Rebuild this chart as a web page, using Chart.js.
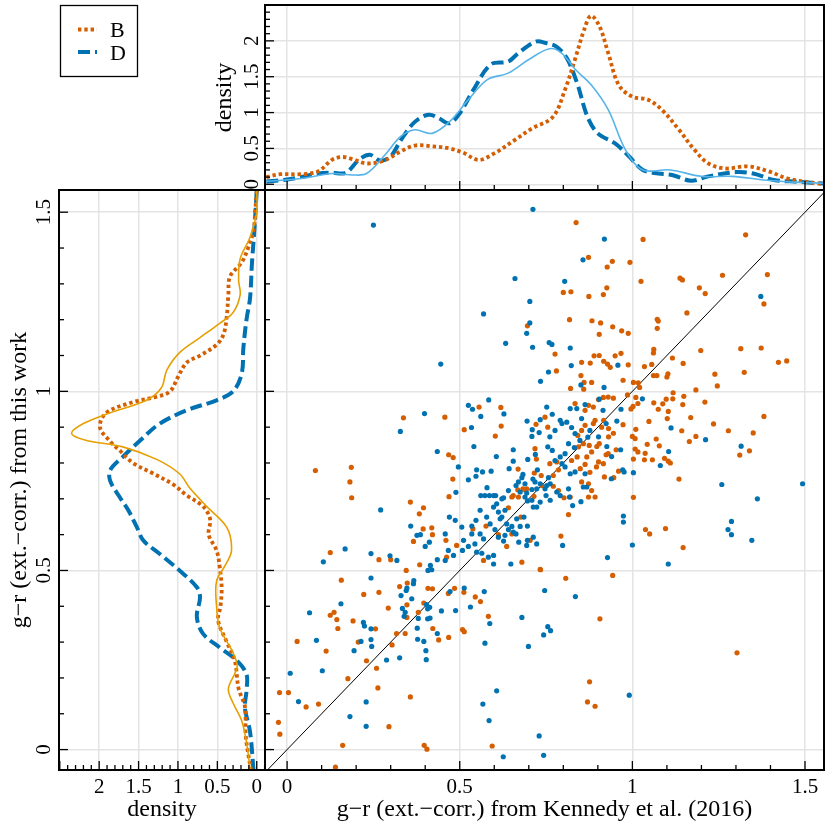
<!DOCTYPE html>
<html>
<head>
<meta charset="utf-8">
<script src="https://cdn.jsdelivr.net/npm/chart.js@4.4.0/dist/chart.umd.min.js"></script>
<style>
  html, body { margin: 0; padding: 0; background: #fff; }
  #wrap { position: relative; width: 830px; height: 830px; }
  #wrap canvas { position: absolute; left: 0; top: 0; }
</style>
</head>
<body>
<div id="wrap">
  <canvas id="topChart" width="830" height="830"></canvas>
  <canvas id="leftChart" width="830" height="830"></canvas>
  <canvas id="mainChart" width="830" height="830"></canvas>
</div>
<script>
// colour index, g-r from Kennedy et al. (x) vs this work (y)
const xRange = [-0.064, 1.555];
const yRange = [-0.057, 1.562];
const grTicks = [0, 0.5, 1, 1.5];
const densTicks = [0, 0.5, 1, 1.5, 2];
const diagLine = [-0.2, 1.7];

// scatter, sample B (orange) as [x, y]
const scatterB = [
  [0.696,1.183],[0.556,0.956],[0.619,0.955],[0.337,0.926],[0.457,0.928],[0.513,0.893],[0.620,0.903],[0.603,0.875],[0.721,0.908],[0.718,0.840],
  [0.722,0.811],[0.468,0.823],[0.481,0.815],[0.082,0.779],[0.186,0.788],[0.669,0.783],[0.716,0.772],[0.480,0.755],[0.736,0.765],
  [0.837,1.471],[1.031,1.424],[1.328,1.437],[0.873,1.374],[0.942,1.363],[0.927,1.347],[0.993,1.360],[1.025,1.307],[1.138,1.316],[1.145,1.311],
  [1.261,1.324],[1.391,1.326],[0.800,1.276],[0.822,1.278],[0.874,1.265],[0.916,1.270],[0.926,1.289],[1.194,1.289],[1.211,1.273],[1.381,1.244],
  [1.158,1.219],[0.818,1.200],[0.883,1.197],[0.908,1.191],[1.072,1.201],[1.075,1.196],[1.072,1.176],[0.904,1.159],[0.943,1.180],[0.969,1.169],
  [0.988,1.162],[0.776,1.104],[0.889,1.099],[0.904,1.100],[0.950,1.099],[0.967,1.106],[1.062,1.117],[1.061,1.107],[1.116,1.093],[1.198,1.114],
  [1.314,1.119],[1.373,1.121],[1.423,1.081],[1.447,1.085],[0.780,1.057],[0.853,1.081],[0.878,1.079],[0.917,1.084],[0.928,1.076],[0.936,1.067],
  [0.988,1.074],[1.035,1.069],[1.056,1.075],[1.147,1.078],[1.061,1.044],[1.071,1.044],[1.100,1.040],[1.103,1.049],[1.239,1.048],[1.324,1.053],
  [1.246,1.015],[1.184,1.004],[0.851,1.044],[0.860,1.025],[0.882,1.025],[0.973,1.031],[1.003,1.025],[1.017,1.024],[0.821,1.008],[0.859,1.006],
  [1.021,1.011],[0.986,0.990],[1.118,0.996],[1.098,0.978],[1.117,0.979],[1.149,0.986],[1.146,0.963],[1.210,0.970],[1.062,0.968],[1.088,0.965],
  [1.010,0.983],[1.016,0.966],[1.002,0.958],[0.902,0.977],[0.916,0.983],[0.930,0.984],[0.945,0.981],[0.873,0.961],[0.887,0.956],[0.863,0.947],
  [0.834,0.966],[0.996,0.951],[1.075,0.950],[1.104,0.944],[1.101,0.924],[1.169,0.927],[1.381,0.930],[1.048,0.916],[0.973,0.907],[1.010,0.894],
  [1.143,0.890],[1.235,0.909],[1.278,0.890],[1.350,0.884],[1.165,0.860],[1.184,0.874],[1.000,0.874],[1.008,0.868],[1.069,0.867],[1.043,0.852],
  [1.078,0.848],[0.953,0.837],[1.008,0.839],[1.016,0.831],[1.037,0.827],[1.339,0.834],[1.311,0.822],[1.093,0.813],[1.104,0.805],[1.110,0.800],
  [1.035,0.809],[1.058,0.809],[1.003,0.811],[0.924,0.823],[0.930,0.826],[1.135,0.755],[0.960,0.777],[0.919,0.761],[0.946,0.759],[0.902,0.803],
  [0.916,0.798],[0.896,0.789],[0.877,0.774],[0.863,0.796],[0.882,0.831],[0.868,0.817],[0.897,0.846],[0.904,0.854],[0.875,0.849],[0.931,0.896],
  [0.931,0.873],[0.945,0.883],[0.911,0.900],[0.917,0.919],[0.892,0.919],[0.887,0.910],[0.853,0.891],[0.863,0.905],[0.842,0.877],[0.844,0.845],
  [0.858,0.854],[0.840,0.817],[0.824,0.807],[0.781,0.803],[0.761,0.798],[0.786,0.781],[0.771,0.765],[0.747,0.928],[0.755,0.900],[0.849,0.784],
  [0.469,0.706],[0.651,0.705],[0.668,0.725],[0.683,0.728],[0.694,0.728],[0.715,0.707],[0.738,0.737],[0.771,0.735],[0.786,0.723],[0.802,0.703],
  [0.820,0.705],[0.853,0.747],[0.873,0.742],[0.882,0.723],[0.873,0.705],[0.892,0.705],[0.815,0.656],[1.003,0.704],[1.038,0.614],[1.050,0.602],
  [1.096,0.617],[1.147,0.564],[0.793,0.596],[0.641,0.675],[0.655,0.709],[0.677,0.649],[0.651,0.602],[0.636,0.567],[0.612,0.600],[0.576,0.624],
  [0.538,0.616],[0.491,0.570],[0.460,0.584],[0.462,0.537],[0.569,0.528],[0.680,0.523],[0.704,0.584],[0.733,0.503],[0.689,0.725],[0.670,0.705],
  [0.182,0.747],[0.187,0.703],[0.357,0.691],[0.383,0.658],[0.395,0.675],[0.366,0.581],[0.394,0.616],[0.419,0.619],[0.421,0.600],[0.384,0.516],
  [0.345,0.500],[0.300,0.530],[0.266,0.530],[0.125,0.550],[0.157,0.473],[0.222,0.433],[0.266,0.439],[0.125,0.375],[0.136,0.383],[0.144,0.363],
  [0.147,0.338],[0.191,0.359],[0.293,0.395],[0.256,0.337],[0.206,0.300],[0.029,0.302],[0.113,0.275],[0.230,0.248],[0.259,0.227],[0.304,0.292],
  [0.317,0.324],[0.342,0.324],[0.347,0.404],[0.347,0.369],[0.380,0.383],[0.348,0.465],[0.326,0.455],[0.396,0.409],[0.422,0.338],[0.408,0.450],
  [0.421,0.449],[0.439,0.306],[0.468,0.313],[0.467,0.436],[0.485,0.450],[0.508,0.335],[0.513,0.329],[0.512,0.439],[0.545,0.426],[0.560,0.413],
  [0.583,0.372],[0.594,0.010],[0.734,0.502],[0.357,0.147],[0.295,0.064],[0.397,0.012],[0.405,0.001],[0.161,0.012],[0.140,-0.049],[0.176,0.198],
  [0.263,0.172],[-0.022,0.159],[0.004,0.159],[0.055,0.119],[0.091,0.127],[-0.025,0.076],[-0.021,0.043],
  [1.303,0.270],[0.807,0.478],[0.943,0.486],[0.906,0.365],[0.876,0.189],[0.870,0.133],[0.892,0.121]
];

// scatter, sample D (blue) as [x, y]
const scatterD = [
  [0.250,1.464],[0.712,1.508],[0.660,1.315],[0.703,1.251],[0.569,1.216],[0.703,1.191],[0.694,1.162],[0.633,1.134],[0.711,1.123],[0.445,1.076],
  [0.734,1.028],[0.584,0.976],[0.525,0.961],[0.537,0.950],[0.398,0.938],[0.561,0.930],[0.628,0.937],[0.328,0.888],[0.534,0.899],[0.695,0.917],
  [0.733,0.921],[0.710,0.893],[0.709,0.874],[0.730,0.885],[0.719,0.824],[0.655,0.837],[0.541,0.846],[0.435,0.832],[0.606,0.818],[0.655,0.805],
  [0.697,0.810],[0.496,0.789],[0.549,0.781],[0.566,0.775],[0.591,0.777],[0.643,0.784],[0.725,0.781],[0.547,0.763],[0.525,0.753],[0.683,0.768],
  [0.680,0.759],[0.712,0.755],
  [0.919,1.425],[0.857,1.367],[0.804,1.307],[1.372,1.265],[0.759,1.136],[0.767,1.131],[0.820,1.121],[0.757,1.054],[0.823,1.072],[0.958,1.073],
  [0.851,1.018],[0.918,1.011],[1.029,0.979],[0.904,0.978],[0.863,0.963],[0.967,0.950],[0.915,0.947],[0.955,0.917],[1.112,0.898],[1.212,0.865],
  [0.966,0.837],[1.105,0.832],[1.315,0.847],[1.081,0.793],[0.940,0.818],[1.003,0.773],[0.972,0.781],[0.976,0.775],[0.939,0.756],[0.926,0.846],
  [0.902,0.873],[0.924,0.910],[0.877,0.891],[0.871,0.872],[0.824,0.899],[0.834,0.882],[0.848,0.863],[0.832,0.843],[0.815,0.854],[0.805,0.826],
  [0.791,0.817],[0.796,0.798],[0.768,0.835],[0.755,0.845],[0.776,0.807],[0.805,0.789],[0.820,0.770],[0.834,0.775],[0.863,0.770],[0.796,0.910],
  [0.776,0.891],[0.761,0.873],[0.752,0.956],[0.768,0.936],[0.791,0.919],[0.810,0.914],[0.820,0.952],[0.853,0.924],[0.839,0.952],[0.757,0.759],
  [0.489,0.718],[0.561,0.709],[0.573,0.709],[0.586,0.709],[0.598,0.709],[0.604,0.709],[0.579,0.731],[0.627,0.703],[0.663,0.737],[0.675,0.719],
  [0.709,0.726],[0.723,0.728],[0.733,0.742],[0.752,0.737],[0.762,0.742],[0.791,0.709],[0.815,0.728],[0.818,0.705],[0.858,0.733],[0.868,0.733],
  [0.851,0.692],[0.827,0.681],[0.974,0.652],[0.974,0.635],[1.000,0.571],[0.798,0.570],[0.928,0.536],[1.104,0.518],
  [0.622,0.700],[0.598,0.677],[0.607,0.686],[0.612,0.663],[0.622,0.649],[0.631,0.668],[0.617,0.644],[0.636,0.630],[0.641,0.614],[0.651,0.623],
  [0.655,0.607],[0.663,0.602],[0.671,0.579],[0.631,0.598],[0.627,0.582],[0.612,0.593],[0.602,0.614],[0.588,0.630],[0.578,0.649],[0.559,0.668],
  [0.547,0.640],[0.535,0.624],[0.535,0.602],[0.559,0.602],[0.569,0.588],[0.544,0.574],[0.511,0.584],[0.506,0.621],[0.487,0.640],[0.470,0.649],
  [0.458,0.602],[0.467,0.556],[0.458,0.528],[0.482,0.542],[0.508,0.556],[0.525,0.567],[0.549,0.551],[0.564,0.548],[0.583,0.537],[0.598,0.542],
  [0.598,0.518],[0.648,0.518],[0.696,0.584],[0.686,0.649],[0.696,0.624],[0.675,0.623],[0.665,0.644],[0.689,0.705],[0.696,0.694],[0.709,0.696],
  [0.713,0.677],[0.723,0.677],[0.713,0.593],[0.723,0.574],[0.694,0.570],[0.750,0.709],[0.762,0.696],[0.733,0.691],[0.781,0.719],[0.747,0.728],
  [0.718,0.747],[0.689,0.742],[0.670,0.747],[0.641,0.723],[0.694,0.716],
  [0.271,0.669],[0.376,0.598],[0.358,0.624],[0.412,0.579],[0.400,0.567],[0.386,0.600],[0.408,0.500],[0.415,0.514],[0.419,0.502],[0.435,0.530],
  [0.298,0.541],[0.318,0.528],[0.243,0.547],[0.168,0.560],[0.105,0.524],[0.243,0.479],[0.156,0.407],[0.065,0.382],[0.221,0.355],[0.224,0.345],
  [0.243,0.337],[0.243,0.307],[0.245,0.288],[0.214,0.302],[0.085,0.305],[0.194,0.276],[0.288,0.250],[0.326,0.256],[0.339,0.372],[0.334,0.394],
  [0.342,0.383],[0.330,0.430],[0.361,0.421],[0.345,0.444],[0.347,0.451],[0.367,0.472],[0.366,0.463],[0.380,0.366],[0.377,0.339],[0.407,0.393],
  [0.413,0.397],[0.407,0.365],[0.414,0.367],[0.404,0.405],[0.396,0.302],[0.402,0.276],[0.403,0.251],[0.378,0.308],[0.435,0.324],[0.447,0.387],
  [0.488,0.388],[0.472,0.441],[0.513,0.451],[0.531,0.398],[0.571,0.441],[0.587,0.352],[0.573,0.297],[0.607,0.164],[0.567,0.127],[0.585,0.081],
  [0.626,-0.020],[0.680,0.369],[0.699,0.288],[0.730,0.038],[0.743,-0.016],[0.743,0.320],[0.746,0.444],[0.229,0.133],[0.229,0.065],[0.182,0.092],
  [0.102,0.220],[0.009,0.213],[0.033,0.134],
  [1.259,0.740],[1.493,0.742],[1.362,0.700],[1.287,0.637],[1.277,0.614],[1.287,0.600],[1.346,0.584],[0.835,0.427],[0.755,0.343],[0.763,0.332],
  [0.991,0.152]
];

// top panel: density of Kennedy g-r
const topBx = [-0.06,-0.02,0.04,0.09,0.13,0.16,0.19,0.23,0.28,0.33,0.37,0.42,0.47,0.51,0.555,0.60,0.66,0.71,0.77,0.805,0.835,0.86,0.88,0.905,0.93,0.96,1.0,1.045,1.085,1.135,1.18,1.22,1.27,1.335,1.395,1.45,1.53,1.555];
const topBy = [0.10,0.14,0.14,0.18,0.34,0.38,0.35,0.29,0.33,0.46,0.54,0.53,0.50,0.44,0.34,0.43,0.62,0.78,0.94,1.32,1.76,2.15,2.35,2.20,1.83,1.39,1.22,1.18,1.04,0.76,0.48,0.29,0.22,0.25,0.18,0.08,0.015,0.01];
const topDx = [-0.06,-0.01,0.04,0.09,0.13,0.17,0.21,0.24,0.27,0.30,0.33,0.37,0.41,0.44,0.47,0.50,0.54,0.59,0.64,0.67,0.72,0.75,0.78,0.81,0.84,0.87,0.90,0.95,0.99,1.03,1.075,1.115,1.17,1.22,1.30,1.35,1.41,1.48,1.555];
const topDy = [0.04,0.06,0.10,0.15,0.16,0.16,0.35,0.41,0.33,0.39,0.62,0.87,0.97,0.92,0.85,0.99,1.32,1.67,1.71,1.83,1.99,1.97,1.92,1.76,1.41,0.94,0.71,0.57,0.39,0.20,0.15,0.13,0.05,0.11,0.17,0.15,0.06,0.035,0.01];
const topThinX = [-0.06,0.04,0.13,0.19,0.23,0.28,0.33,0.37,0.42,0.47,0.525,0.58,0.64,0.70,0.76,0.795,0.835,0.88,0.93,0.98,1.03,1.11,1.20,1.29,1.38,1.47,1.555];
const topThinY = [0.04,0.08,0.15,0.13,0.15,0.39,0.67,0.76,0.71,0.87,1.18,1.46,1.55,1.74,1.89,1.83,1.60,1.39,1.04,0.48,0.20,0.20,0.11,0.11,0.06,0.03,0.015];

// left panel: density of this-work g-r (value along y, density along x)
const leftBy = [1.56,1.50,1.45,1.40,1.36,1.32,1.27,1.21,1.16,1.13,1.10,1.08,1.04,1.00,0.985,0.97,0.94,0.90,0.86,0.835,0.80,0.77,0.74,0.71,0.686,0.668,0.64,0.60,0.556,0.51,0.45,0.40,0.36,0.30,0.25,0.17,0.12,0.04,-0.01,-0.06];
const leftBd = [0,0.02,0.04,0.11,0.19,0.34,0.36,0.38,0.42,0.51,0.72,0.89,1.00,1.10,1.27,1.57,1.91,1.99,1.86,1.74,1.57,1.31,1.06,0.89,0.72,0.64,0.59,0.61,0.51,0.47,0.445,0.46,0.49,0.38,0.28,0.23,0.15,0.14,0.11,0.07];
const leftDy = [1.56,1.45,1.36,1.26,1.20,1.12,1.05,1.00,0.975,0.947,0.91,0.863,0.817,0.78,0.75,0.705,0.668,0.62,0.584,0.546,0.50,0.453,0.425,0.37,0.323,0.285,0.248,0.21,0.164,0.117,0.05,-0.06];
const leftDd = [0,0.03,0.06,0.085,0.13,0.17,0.19,0.30,0.51,0.89,1.23,1.48,1.70,1.86,1.86,1.74,1.63,1.52,1.44,1.23,0.98,0.76,0.72,0.76,0.68,0.47,0.25,0.13,0.13,0.15,0.085,0.04];
const leftThinY = [1.56,1.50,1.43,1.37,1.31,1.27,1.22,1.19,1.15,1.11,1.06,1.01,0.975,0.94,0.91,0.882,0.863,0.845,0.81,0.77,0.73,0.68,0.62,0.556,0.514,0.47,0.40,0.34,0.27,0.23,0.17,0.13,0.08,0.02,-0.06];
const leftThinD = [0,0,0.085,0.21,0.23,0.21,0.30,0.47,0.72,0.97,1.14,1.21,1.40,1.86,2.20,2.35,2.16,1.70,1.27,0.98,0.85,0.64,0.38,0.32,0.40,0.51,0.51,0.47,0.30,0.25,0.36,0.30,0.19,0.13,0.08];

const ORANGE = '#D55E00';
const BLUE = '#0072B2';
const SKY = '#56B4E9';
const AMBER = '#E69F00';
const FONT = '"Liberation Serif", "Times New Roman", serif';
const TICK_PX = 21;
const TITLE_PX = 24;

Chart.defaults.font.family = FONT;
Chart.defaults.color = '#000';
Chart.defaults.animation = false;

const zip = (xs, ys) => xs.map((x, i) => ({ x, y: ys[i] }));
const pts = arr => arr.map(p => ({ x: p[0], y: p[1] }));
const fixTicks = vals => s => { s.ticks = vals.map(v => ({ value: v })); };
const grid = { color: '#e4e4e4', lineWidth: 1.5, drawTicks: false };
const fmt = v => String(v);

const dotB = { borderColor: ORANGE, borderWidth: 3.8, borderDash: [3.4, 2.9], borderCapStyle: 'butt' };
const dashD = { borderColor: BLUE, borderWidth: 4, borderDash: [12, 5], borderCapStyle: 'butt' };

// frame, inward ticks, rotated labels and legend
const decor = {
  id: 'decor',
  afterDraw(chart, args, o) {
    const { ctx, chartArea: a } = chart;
    ctx.save();
    ctx.strokeStyle = '#000';
    ctx.lineWidth = 1.3;
    (o.ticks || []).forEach(t => {
      const s = chart.scales[t.scale];
      for (let i = Math.ceil(s.min * 10); i <= Math.floor(s.max * 10); i++) {
        const len = i % 5 === 0 ? 9 : 5;
        const p = s.getPixelForValue(i / 10);
        ctx.beginPath();
        if (t.side === 'left') { ctx.moveTo(a.left, p); ctx.lineTo(a.left + len, p); }
        else { ctx.moveTo(p, a.bottom); ctx.lineTo(p, a.bottom - len); }
        ctx.stroke();
      }
    });
    ctx.lineWidth = 2;
    ctx.strokeRect(a.left, a.top, a.right - a.left, a.bottom - a.top);

    ctx.fillStyle = '#000';
    ctx.textAlign = 'center';
    ctx.textBaseline = 'alphabetic';
    if (o.rot) {
      const s = chart.scales.y;
      ctx.font = TICK_PX + 'px ' + FONT;
      o.rot.values.forEach(v => {
        ctx.save();
        ctx.translate(o.rot.x, s.getPixelForValue(v));
        ctx.rotate(-Math.PI / 2);
        ctx.fillText(fmt(v), 0, 0);
        ctx.restore();
      });
      ctx.font = TITLE_PX + 'px ' + FONT;
      ctx.save();
      ctx.translate(o.rot.titleX, (a.top + a.bottom) / 2);
      ctx.rotate(-Math.PI / 2);
      ctx.fillText(o.rot.title, 0, 0);
      ctx.restore();
    }
    if (o.legend) {
      ctx.lineWidth = 1.3;
      ctx.strokeRect(60.5, 5.5, 77, 71);
      ctx.textAlign = 'left';
      ctx.font = '22px ' + FONT;
      o.legend.forEach((it, i) => {
        const y = 29.5 + i * 22.5;
        ctx.save();
        ctx.strokeStyle = it.borderColor;
        ctx.lineWidth = it.borderWidth;
        ctx.lineCap = it.borderCapStyle;
        ctx.setLineDash(it.borderDash);
        ctx.beginPath();
        ctx.moveTo(78, y);
        ctx.lineTo(97, y);
        ctx.stroke();
        ctx.restore();
        ctx.fillText(it.label, 110, y + 7.5);
      });
    }
    ctx.restore();
  }
};

const thin = (color, data) => ({
  data, borderColor: color, borderWidth: 1.6, showLine: true, pointRadius: 0, tension: 0.35, clip: 0
});
const curve = (style, data) => Object.assign({
  data, showLine: true, pointRadius: 0, tension: 0.35, clip: 0
}, style);
const tickFont = { font: { size: TICK_PX }, padding: 5, color: '#000', callback: v => fmt(v) };

// top density panel
new Chart(document.getElementById('topChart'), {
  type: 'scatter',
  data: {
    datasets: [
      thin(SKY, zip(topThinX, topThinY)),
      curve(dotB, zip(topBx, topBy)),
      curve(dashD, zip(topDx, topDy))
    ]
  },
  options: {
    responsive: false,
    events: [],
    layout: { padding: { left: 0, top: 5, right: 6, bottom: 640 } },
    plugins: {
      legend: { display: false },
      tooltip: { enabled: false },
      decor: {
        ticks: [{ scale: 'y', side: 'left' }, { scale: 'x', side: 'bottom' }],
        rot: { values: densTicks, x: 258, title: 'density', titleX: 231 },
        legend: [Object.assign({ label: 'B' }, dotB), Object.assign({ label: 'D' }, dashD)]
      }
    },
    scales: {
      x: { type: 'linear', min: xRange[0], max: xRange[1], grid, border: { display: false },
           ticks: { display: false }, afterBuildTicks: fixTicks(grTicks), afterFit: s => { s.height = 0; } },
      y: { type: 'linear', min: -0.08, max: 2.5, grid, border: { display: false },
           ticks: { display: false }, afterBuildTicks: fixTicks(densTicks), afterFit: s => { s.width = 265; } }
    }
  },
  plugins: [decor]
});

// left density panel (rotated)
new Chart(document.getElementById('leftChart'), {
  type: 'scatter',
  data: {
    datasets: [
      thin(AMBER, zip(leftThinD, leftThinY)),
      curve(dotB, zip(leftBd, leftBy)),
      curve(dashD, zip(leftDd, leftDy))
    ]
  },
  options: {
    responsive: false,
    events: [],
    layout: { padding: { left: 0, top: 190, right: 565, bottom: 0 } },
    plugins: {
      legend: { display: false },
      tooltip: { enabled: false },
      decor: {
        ticks: [{ scale: 'y', side: 'left' }, { scale: 'x', side: 'bottom' }],
        rot: { values: grTicks, x: 50, title: 'g\u2212r (ext.\u2212corr.) from this work', titleX: 26 }
      }
    },
    scales: {
      x: { type: 'linear', reverse: true, min: -0.105, max: 2.51, grid, border: { display: false },
           ticks: tickFont,
           title: { display: true, text: 'density', font: { size: TITLE_PX }, padding: { top: 0, bottom: 6 } },
           afterBuildTicks: fixTicks(densTicks), afterFit: s => { s.height = 60; } },
      y: { type: 'linear', min: yRange[0], max: yRange[1], grid, border: { display: false },
           ticks: { display: false }, afterBuildTicks: fixTicks(grTicks), afterFit: s => { s.width = 59; } }
    }
  },
  plugins: [decor]
});

// main scatter
new Chart(document.getElementById('mainChart'), {
  type: 'scatter',
  data: {
    datasets: [
      { data: pts(scatterD), backgroundColor: BLUE, pointRadius: 2.6, borderWidth: 0, clip: 0 },
      { data: pts(scatterB), backgroundColor: ORANGE, pointRadius: 2.6, borderWidth: 0, clip: 0 },
      { data: diagLine.map(v => ({ x: v, y: v })), showLine: true, borderColor: '#000', borderWidth: 1,
        pointRadius: 0, clip: 0 }
    ]
  },
  options: {
    responsive: false,
    events: [],
    layout: { padding: { left: 265, top: 190, right: 6, bottom: 0 } },
    plugins: {
      legend: { display: false },
      tooltip: { enabled: false },
      decor: { ticks: [{ scale: 'y', side: 'left' }, { scale: 'x', side: 'bottom' }] }
    },
    scales: {
      x: { type: 'linear', min: xRange[0], max: xRange[1], grid, border: { display: false },
           ticks: tickFont,
           title: { display: true, text: 'g\u2212r (ext.\u2212corr.) from Kennedy et al. (2016)', font: { size: TITLE_PX },
                    padding: { top: 0, bottom: 6 } },
           afterBuildTicks: fixTicks(grTicks), afterFit: s => { s.height = 60; } },
      y: { type: 'linear', min: yRange[0], max: yRange[1], grid, border: { display: false },
           ticks: { display: false }, afterBuildTicks: fixTicks(grTicks), afterFit: s => { s.width = 0; } }
    }
  },
  plugins: [decor]
});
</script>
</body>
</html>
